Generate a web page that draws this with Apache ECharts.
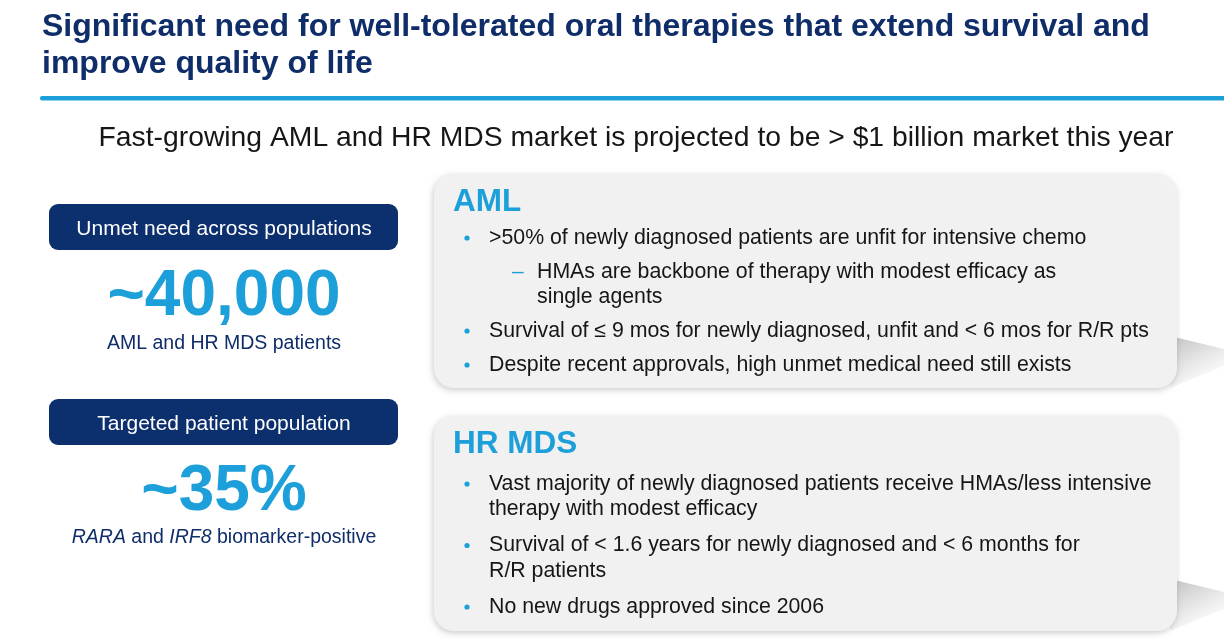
<!DOCTYPE html>
<html>
<head>
<meta charset="utf-8">
<script src="https://cdn.jsdelivr.net/npm/echarts@6/dist/echarts.min.js"></script>
<style>
html,body{margin:0;padding:0;background:#fff;}
#main{width:1224px;height:641px;}
</style>
</head>
<body>
<div id="main"></div>
<script>
// ---- content ----
var titleLines = [
  'Significant need for well-tolerated oral therapies that extend survival and',
  'improve quality of life'
];
var subtitle = 'Fast-growing AML and HR MDS market is projected to be > $1 billion market this year';
var statLabels = ['Unmet need across populations', 'Targeted patient population'];
var statValues = ['~40,000', '~35%'];
var statCaptions = ['AML and HR MDS patients', '{i|RARA} and {i|IRF8} biomarker-positive'];
var panelTitles = ['AML', 'HR MDS'];
// each item: [level, line1, line2...]
var amlBullets = [
  [1, '>50% of newly diagnosed patients are unfit for intensive chemo'],
  [2, 'HMAs are backbone of therapy with modest efficacy as', 'single agents'],
  [1, 'Survival of \u2264 9 mos for newly diagnosed, unfit and < 6 mos for R/R pts'],
  [1, 'Despite recent approvals, high unmet medical need still exists']
];
var mdsBullets = [
  [1, 'Vast majority of newly diagnosed patients receive HMAs/less intensive', 'therapy with modest efficacy'],
  [1, 'Survival of < 1.6 years for newly diagnosed and < 6 months for', 'R/R patients'],
  [1, 'No new drugs approved since 2006']
];

// ---- styles ----
var FONT = '"Liberation Sans", Arial, Helvetica, sans-serif';
var NAVY = '#0f2d69';
var BLUE = '#1d9fda';
var TEXT = '#161616';

var g = [];

// title
titleLines.forEach(function (t, i) {
  g.push({ type: 'text', style: { text: t, x: 42, y: 27 + i * 37, fontFamily: FONT, fontSize: 32, fontWeight: 'bold', fill: NAVY, textVerticalAlign: 'middle' } });
});
// rule
g.push({ type: 'rect', shape: { x: 40, y: 96, width: 1200, height: 4.5, r: 2 }, style: { fill: BLUE } });
// subtitle
g.push({ type: 'text', style: { text: subtitle, x: 636, y: 138, fontFamily: FONT, fontSize: 28.3, fill: TEXT, textAlign: 'center', textVerticalAlign: 'middle' } });

// left stats
var statTop = [204, 399];
statLabels.forEach(function (lab, i) {
  var top = statTop[i];
  g.push({ type: 'rect', shape: { x: 49, y: top, width: 349, height: 46, r: 9 }, style: { fill: '#0c2f6d' } });
  g.push({ type: 'text', style: { text: lab, x: 224, y: top + 25, fontFamily: FONT, fontSize: 21, fill: '#ffffff', textAlign: 'center', textVerticalAlign: 'middle' } });
  g.push({ type: 'text', style: { text: statValues[i], x: 224, y: top + 93, fontFamily: FONT, fontSize: 64, fontWeight: 'bold', fill: BLUE, textAlign: 'center', textVerticalAlign: 'middle' } });
  g.push({ type: 'text', style: { text: statCaptions[i], x: 224, y: top + (i === 0 ? 140 : 139), fontFamily: FONT, fontSize: 19.5, fill: NAVY, textAlign: 'center', textVerticalAlign: 'middle',
    rich: { i: { fontFamily: FONT, fontSize: 19.5, fontStyle: 'italic', fill: NAVY } } } });
});

// right panels
var panelTop = [174, 416];
var panelH = [214, 215];
var firstOffset = [64, 68];
var wrapStep = [25, 25.5];
var paraStep = [34, 36];
[amlBullets, mdsBullets].forEach(function (items, p) {
  var top = panelTop[p];
  // curled shadow at right edge
  var sy = top + panelH[p] - 52;
  g.push({ type: 'polygon', shape: { points: [[1170, sy], [1224, sy + 13], [1224, sy + 30], [1170, sy + 52]] },
    style: { fill: new echarts.graphic.LinearGradient(0, 0, 0.5, 1, [{ offset: 0, color: '#c2c2c2' }, { offset: 0.6, color: '#e8e8e8' }, { offset: 1, color: '#ffffff' }]) } });
  g.push({ type: 'rect', shape: { x: 434, y: top, width: 743, height: panelH[p], r: 20 },
    style: { fill: '#f1f1f1', shadowBlur: 6, shadowColor: 'rgba(0,0,0,0.2)', shadowOffsetX: -1, shadowOffsetY: 2 } });
  g.push({ type: 'text', style: { text: panelTitles[p], x: 453, y: top + 28, fontFamily: FONT, fontSize: 31.5, fontWeight: 'bold', fill: BLUE, textVerticalAlign: 'middle' } });
  var y = top + firstOffset[p];
  items.forEach(function (it, k) {
    var level = it[0];
    if (level === 1) {
      g.push({ type: 'circle', shape: { cx: 467, cy: y, r: 2.6 }, style: { fill: BLUE } });
    } else {
      g.push({ type: 'text', style: { text: '\u2013', x: 512, y: y, fontFamily: FONT, fontSize: 21, fill: BLUE, textVerticalAlign: 'middle' } });
    }
    var tx = level === 1 ? 489 : 537;
    for (var j = 1; j < it.length; j++) {
      g.push({ type: 'text', style: { text: it[j], x: tx, y: y, fontFamily: FONT, fontSize: 21.3, fill: TEXT, textVerticalAlign: 'middle' } });
      if (j < it.length - 1) y += wrapStep[p];
    }
    y += paraStep[p];
  });
});

var chart = echarts.init(document.getElementById('main'), null, { renderer: 'canvas' });
chart.setOption({ backgroundColor: '#ffffff', animation: false, graphic: { elements: g } });
</script>
</body>
</html>
